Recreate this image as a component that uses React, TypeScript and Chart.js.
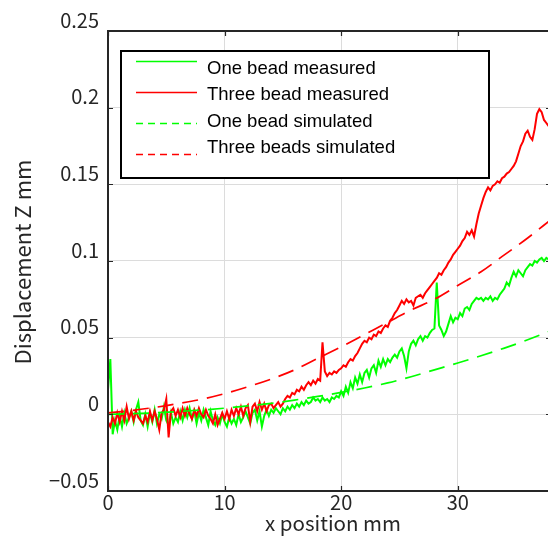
import React, { useEffect, useRef } from "react";
import { Chart, registerables } from "chart.js";

Chart.register(...registerables);

// ---- data ----
const X_STEP = 0.2; // spacing of the measured samples (mm)

const SERIES_LABELS = [
  "One bead measured",
  "Three bead measured",
  "One bead simulated",
  "Three beads simulated",
];

const ONE_BEAD_MEASURED = [
  0.016, 0.036, -0.013, -0.004, -0.010, -0.001, -0.008, 0.001, -0.006, -0.002,
  0.002, -0.005, 0.003, 0.008, -0.004, -0.007, 0.000, -0.008, 0.001, -0.005,
  0.003, -0.006, 0.000, -0.003, 0.005, -0.004, -0.007, 0.001, -0.006, -0.002,
  -0.005, 0.002, -0.004, 0.003, -0.002, 0.004, -0.003, 0.002, -0.006, 0.001,
  -0.004, 0.003, -0.002, -0.007, 0.002, -0.004, -0.007, -0.002, -0.006, 0.000,
  -0.005, -0.008, -0.002, -0.006, -0.003, -0.007, 0.000, -0.005, -0.002, 0.002,
  -0.002, -0.006, 0.001, 0.003, -0.004, 0.002, -0.008, -0.001, 0.003, -0.001,
  0.003, 0.001, 0.004, 0.002, 0.000, 0.004, 0.002, 0.005, 0.003, 0.006,
  0.004, 0.007, 0.005, 0.008, 0.006, 0.009, 0.007, 0.008, 0.011, 0.009,
  0.010, 0.008, 0.011, 0.009, 0.010, 0.008, 0.011, 0.010, 0.012, 0.011,
  0.015, 0.012, 0.018, 0.014, 0.021, 0.017, 0.024, 0.020, 0.026, 0.021,
  0.027, 0.029, 0.024, 0.030, 0.032, 0.027, 0.035, 0.031, 0.036, 0.032,
  0.036, 0.034, 0.037, 0.039, 0.037, 0.041, 0.043, 0.038, 0.030, 0.041,
  0.046, 0.048, 0.045, 0.049, 0.051, 0.048, 0.051, 0.050, 0.053, 0.055,
  0.056, 0.086, 0.058, 0.055, 0.051, 0.054, 0.059, 0.064, 0.060, 0.063,
  0.062, 0.066, 0.064, 0.069, 0.070, 0.068, 0.072, 0.074, 0.076, 0.075,
  0.076, 0.074, 0.076, 0.075, 0.077, 0.074, 0.076, 0.075, 0.078, 0.080,
  0.082, 0.086, 0.084, 0.089, 0.093, 0.090, 0.094, 0.092, 0.090, 0.094,
  0.096, 0.098, 0.097, 0.100, 0.099, 0.101, 0.102, 0.100, 0.102, 0.101,
];

const THREE_BEAD_MEASURED = [
  -0.005, -0.008, -0.002, -0.006, 0.001, -0.005, 0.002, -0.004, 0.005, -0.003,
  0.002, -0.004, 0.002, -0.002, -0.004, -0.006, -0.001, -0.005, 0.002, -0.004,
  0.002, -0.003, -0.010, 0.001, 0.003, 0.010, -0.015, 0.002, 0.004, -0.001,
  0.003, -0.002, 0.004, -0.001, 0.004, 0.000, -0.003, 0.003, -0.001, 0.004,
  0.000, -0.002, 0.003, -0.001, -0.003, -0.006, 0.000, -0.007, -0.003, 0.001,
  -0.003, 0.002, -0.003, 0.003, -0.001, 0.004, 0.000, 0.005, -0.001, 0.004,
  0.006, -0.005, 0.005, 0.007, 0.002, 0.008, 0.003, 0.007, 0.002, 0.006,
  0.007, 0.004, 0.006, 0.008, 0.005, 0.007, 0.010, 0.012, 0.011, 0.014,
  0.013, 0.016, 0.015, 0.018, 0.016, 0.019, 0.021, 0.019, 0.022, 0.020,
  0.023, 0.022, 0.047, 0.028, 0.025, 0.027, 0.026, 0.028, 0.027, 0.029,
  0.030, 0.032, 0.031, 0.034, 0.036, 0.035, 0.038, 0.040, 0.043, 0.046,
  0.048, 0.047, 0.050, 0.049, 0.052, 0.051, 0.054, 0.053, 0.056, 0.058,
  0.057, 0.061, 0.063, 0.066, 0.068, 0.071, 0.074, 0.072, 0.075, 0.073,
  0.074, 0.071, 0.076, 0.077, 0.078, 0.076, 0.079, 0.081, 0.083, 0.085,
  0.087, 0.089, 0.092, 0.091, 0.094, 0.096, 0.099, 0.101, 0.104, 0.106,
  0.108, 0.110, 0.113, 0.115, 0.119, 0.117, 0.120, 0.116, 0.124, 0.131,
  0.136, 0.141, 0.145, 0.148, 0.146, 0.149, 0.150, 0.152, 0.151, 0.154,
  0.155, 0.157, 0.158, 0.160, 0.162, 0.165, 0.170, 0.175, 0.178, 0.183,
  0.185, 0.181, 0.179, 0.186, 0.196, 0.199, 0.197, 0.192, 0.190, 0.188,
];

const SIM_X = [0, 2, 4, 6, 8, 10, 12, 14, 16, 18, 20, 22, 24, 26, 28, 30, 32, 34, 36, 38];
const ONE_BEAD_SIMULATED = [
  0.0, 0.0004, 0.001, 0.0018, 0.0028, 0.004, 0.0055, 0.0072, 0.0093, 0.0117,
  0.0143, 0.0172, 0.0205, 0.0245, 0.029, 0.0335, 0.0382, 0.0432, 0.0486, 0.0545,
];
const THREE_BEADS_SIMULATED = [
  0.001, 0.0025, 0.0045, 0.007, 0.0098, 0.0135, 0.018, 0.023, 0.029, 0.0365,
  0.044, 0.052, 0.06, 0.068, 0.075, 0.084, 0.093, 0.104, 0.115, 0.127,
];

const X_TICKS = [0, 10, 20, 30];
const X_TICK_LABELS = ["0", "10", "20", "30"];
const Y_TICKS = [-0.05, 0, 0.05, 0.1, 0.15, 0.2, 0.25];
const Y_TICK_LABELS = ["\u22120.05", "0", "0.05", "0.1", "0.15", "0.2", "0.25"];

const X_TITLE = "x position mm";
const Y_TITLE = "Displacement Z mm";

// ---- styles ----
const GREEN = "#00ff00";
const RED = "#ff0000";
const TEXT = "#262626";
const TICK_FONT = '"Noto Sans CJK JP", "Noto Sans", sans-serif';
const LEGEND_FONT = '18.5px "Liberation Sans", Arial, sans-serif';
const CANVAS_W = 556;
const CANVAS_H = 536;

const framePlugin = {
  id: "matlabFrame",
  afterDraw(chart: any) {
    const { ctx, chartArea } = chart;
    const { left, right, top, bottom } = chartArea;
    const xs = chart.scales.x;
    const ys = chart.scales.y;
    ctx.save();

    // inward ticks
    ctx.strokeStyle = TEXT;
    ctx.lineWidth = 1.2;
    ctx.beginPath();
    Y_TICKS.forEach((v) => {
      const py = Math.round(ys.getPixelForValue(v)) + 0.5;
      ctx.moveTo(left, py);
      ctx.lineTo(left + 5, py);
      ctx.moveTo(right - 5, py);
      ctx.lineTo(right, py);
    });
    X_TICKS.forEach((v) => {
      const px = Math.round(xs.getPixelForValue(v)) + 0.5;
      ctx.moveTo(px, bottom);
      ctx.lineTo(px, bottom - 5);
      ctx.moveTo(px, top);
      ctx.lineTo(px, top + 5);
    });
    ctx.stroke();

    // frame
    ctx.lineWidth = 2;
    ctx.strokeRect(left, top, right - left, bottom - top);

    // axis titles
    ctx.fillStyle = TEXT;
    ctx.textAlign = "center";
    ctx.textBaseline = "alphabetic";
    ctx.font = `20.5px ${TICK_FONT}`;
    ctx.fillText(X_TITLE, 333, 531);
    ctx.save();
    ctx.font = `22px ${TICK_FONT}`;
    ctx.translate(31, 262);
    ctx.rotate(-Math.PI / 2);
    ctx.fillText(Y_TITLE, 0, 0);
    ctx.restore();

    // legend box
    const bx = 121, by = 51, bw = 368, bh = 127;
    ctx.fillStyle = "#ffffff";
    ctx.fillRect(bx, by, bw, bh);
    ctx.strokeStyle = "#000000";
    ctx.lineWidth = 2;
    ctx.strokeRect(bx, by, bw, bh);

    const ds = chart.data.datasets;
    ctx.font = LEGEND_FONT;
    ctx.textAlign = "left";
    ctx.textBaseline = "middle";
    ds.forEach((d: any, i: number) => {
      const ly = 61.5 + i * 31;
      const ty = 69 + i * 26.4;
      ctx.strokeStyle = d.borderColor;
      ctx.lineWidth = 1.6;
      ctx.setLineDash(d.borderDash && d.borderDash.length ? [7, 5] : []);
      ctx.beginPath();
      ctx.moveTo(136, ly);
      ctx.lineTo(197, ly);
      ctx.stroke();
      ctx.setLineDash([]);
      ctx.fillStyle = "#000000";
      ctx.fillText(d.label, 207, ty);
    });

    ctx.restore();
  },
};

export default function App() {
  const canvasRef = useRef<HTMLCanvasElement | null>(null);

  useEffect(() => {
    const canvas = canvasRef.current;
    if (!canvas) return;

    const measuredPoints = (vals: number[]) =>
      vals.map((y, i) => ({ x: Math.round(i * X_STEP * 10) / 10, y }));
    const simPoints = (vals: number[]) => vals.map((y, i) => ({ x: SIM_X[i], y }));

    const chart = new Chart(canvas, {
      type: "line",
      data: {
        datasets: [
          {
            label: SERIES_LABELS[0],
            data: measuredPoints(ONE_BEAD_MEASURED),
            borderColor: GREEN,
            borderWidth: 2,
            pointRadius: 0,
            order: 4,
          },
          {
            label: SERIES_LABELS[1],
            data: measuredPoints(THREE_BEAD_MEASURED),
            borderColor: RED,
            borderWidth: 2,
            pointRadius: 0,
            order: 3,
          },
          {
            label: SERIES_LABELS[2],
            data: simPoints(ONE_BEAD_SIMULATED),
            borderColor: GREEN,
            borderWidth: 1.7,
            borderDash: [16, 9],
            pointRadius: 0,
            cubicInterpolationMode: "monotone",
            order: 2,
          },
          {
            label: SERIES_LABELS[3],
            data: simPoints(THREE_BEADS_SIMULATED),
            borderColor: RED,
            borderWidth: 1.7,
            borderDash: [16, 9],
            pointRadius: 0,
            cubicInterpolationMode: "monotone",
            order: 1,
          },
        ],
      },
      options: {
        animation: false,
        responsive: false,
        maintainAspectRatio: false,
        layout: { padding: { top: 31, right: 5, left: 0, bottom: 0 } },
        plugins: {
          legend: { display: false },
          tooltip: { enabled: false },
          title: { display: false },
        },
        scales: {
          x: {
            type: "linear",
            min: 0,
            max: 38,
            afterFit: (s: any) => {
              s.height = 45;
            },
            afterBuildTicks: (s: any) => {
              s.ticks = X_TICKS.map((v) => ({ value: v }));
            },
            ticks: {
              color: TEXT,
              font: { family: TICK_FONT, size: 20 },
              padding: -1,
              maxRotation: 0,
              callback: (v: any) => {
                const i = X_TICKS.indexOf(Number(v));
                return i >= 0 ? X_TICK_LABELS[i] : "";
              },
            },
            grid: { color: "#dcdcdc", lineWidth: 1, drawTicks: false },
            border: { display: false },
          },
          y: {
            type: "linear",
            min: -0.05,
            max: 0.25,
            afterFit: (s: any) => {
              s.width = 108;
            },
            afterBuildTicks: (s: any) => {
              s.ticks = Y_TICKS.map((v) => ({ value: v }));
            },
            ticks: {
              color: TEXT,
              font: { family: TICK_FONT, size: 20 },
              padding: 9,
              labelOffset: -11,
              callback: (v: any) => {
                const i = Y_TICKS.findIndex((t) => Math.abs(t - Number(v)) < 1e-9);
                return i >= 0 ? Y_TICK_LABELS[i] : "";
              },
            },
            grid: { color: "#dcdcdc", lineWidth: 1, drawTicks: false },
            border: { display: false },
          },
        },
      },
      plugins: [framePlugin],
    });

    return () => {
      chart.destroy();
    };
  }, []);

  return (
    <div
      style={{
        position: "fixed",
        left: 0,
        top: 0,
        width: 548,
        height: 536,
        overflow: "hidden",
        background: "#ffffff",
      }}
    >
      <canvas
        ref={canvasRef}
        width={CANVAS_W}
        height={CANVAS_H}
        style={{ display: "block", width: CANVAS_W, height: CANVAS_H }}
      />
    </div>
  );
}
